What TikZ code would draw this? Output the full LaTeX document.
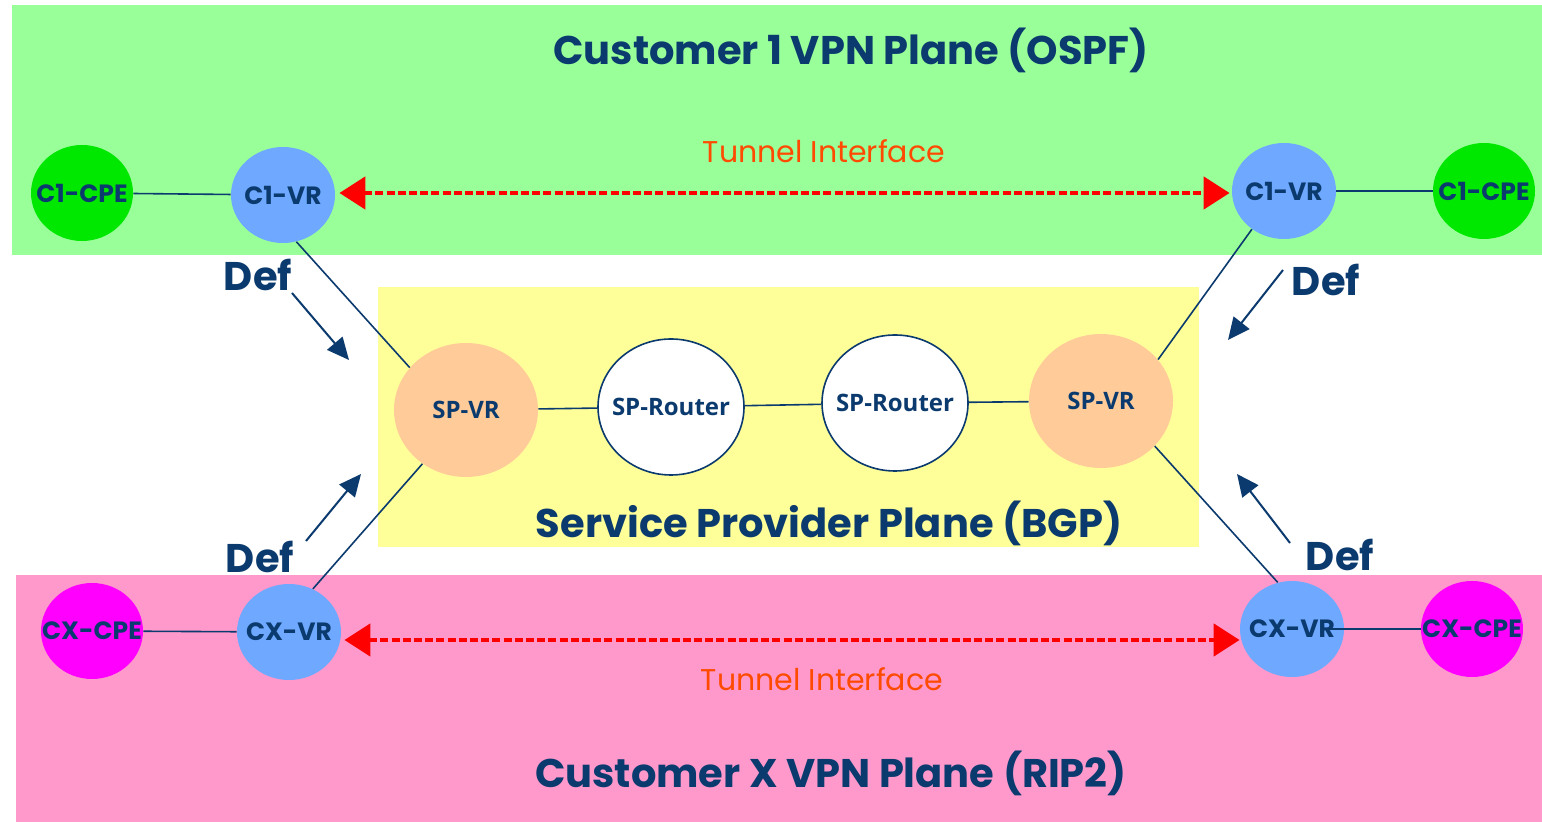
\documentclass[tikz,border=0pt]{standalone}
\usepackage{fontspec}
\setmainfont{Poppins}
\newfontfamily\spfont{Open Sans}
\usetikzlibrary{shapes.geometric,arrows.meta}
\definecolor{navy}{HTML}{0B3A6E}
\definecolor{bggreen}{HTML}{99FF99}
\definecolor{bgyellow}{HTML}{FFFF99}
\definecolor{bgpink}{HTML}{FF99CC}
\definecolor{vrblue}{HTML}{6EA9FF}
\definecolor{cpegreen}{HTML}{00E800}
\definecolor{cpemag}{HTML}{FF00FF}
\definecolor{peach}{HTML}{FFCC99}
\definecolor{tunnel}{HTML}{FF4A00}
\definecolor{tunred}{HTML}{FF0000}
\tikzset{
  plane/.style={fill=#1, draw=none},
  title/.style={text=navy, font=\bfseries\fontsize{20}{24}\selectfont},
  lbl/.style={text=navy, font=\bfseries\fontsize{12.5}{14}\selectfont},
  splbl/.style={text=navy, font=\spfont\bfseries\fontsize{12}{14}\selectfont},
  nodebase/.style={ellipse, inner sep=0pt},
  cpe/.style={nodebase, fill=#1, minimum width=51pt, minimum height=48pt},
  vr/.style={nodebase, fill=vrblue, minimum width=52pt, minimum height=48pt},
  spvr/.style={nodebase, fill=peach, minimum width=72pt, minimum height=67pt},
  sprouter/.style={nodebase, fill=white, draw=navy, line width=0.8pt, minimum width=73pt, minimum height=68pt},
  link/.style={draw=navy, line width=0.8pt},
  tunarrow/.style={draw=tunred, line width=2.4pt, dash pattern=on 4pt off 1.6pt, line cap=butt,
     {Triangle[length=13pt,width=16pt,fill=tunred]}-{Triangle[length=13pt,width=16pt,fill=tunred]}},
  tunlabel/.style={text=tunnel, font=\fontsize{15}{17}\selectfont},
  deflabel/.style={text=navy, font=\bfseries\fontsize{20}{22}\selectfont},
  defarrow/.style={draw=navy, line width=1pt, -{Triangle[length=11pt,width=10pt]}},
}
\begin{document}
\begin{tikzpicture}[x=0.5pt,y=-0.5pt]
\useasboundingbox (0,0) rectangle (1542,822);
\fill[white] (0,0) rectangle (1542,822);
% planes
\fill[plane=bggreen] (12,5) rectangle (1542,255);
\fill[plane=bgyellow] (378,287) rectangle (1199,547);
\fill[plane=bgpink] (16,575) rectangle (1542,822);
% titles
\node[title] (t1) at (851,50) {Customer 1 VPN Plane (OSPF)};
\node[title] (tsp) at (829,523) {Service Provider Plane (BGP)};
\node[title] (tx) at (831,773) {Customer X VPN Plane (RIP2)};
\node[tunlabel] (tun1) at (824,151) {Tunnel Interface};
\node[tunlabel] (tun2) at (822,679) {Tunnel Interface};
% nodes top
\node[cpe=cpegreen, label={[lbl]center:C1-CPE}] (c1cpeL) at (82,193) {};
\node[vr, label={[lbl]center:C1-VR}] (c1vrL) at (283,195) {};
\node[vr, label={[lbl]center:C1-VR}] (c1vrR) at (1284,191) {};
\node[cpe=cpegreen, label={[lbl]center:C1-CPE}] (c1cpeR) at (1484,191) {};
% SP
\node[spvr, label={[splbl]center:SP-VR}] (spvrL) at (466,410) {};
\node[sprouter, label={[splbl]center:SP-Router}] (spr1) at (671,407) {};
\node[sprouter, label={[splbl]center:SP-Router}] (spr2) at (895,403) {};
\node[spvr, label={[splbl]center:SP-VR}] (spvrR) at (1101,401) {};
% bottom
\node[cpe=cpemag, label={[lbl]center:CX-CPE}] (cxcpeL) at (92,631) {};
\node[vr, label={[lbl]center:CX-VR}] (cxvrL) at (289,632) {};
\node[vr, label={[lbl]center:CX-VR}] (cxvrR) at (1292,629) {};
\node[cpe=cpemag, label={[lbl]center:CX-CPE}] (cxcpeR) at (1472,629) {};
% links
\draw[link] (c1cpeL) -- (c1vrL);
\draw[link] (c1vrR) -- (c1cpeR);
\draw[link] (cxcpeL) -- (cxvrL);
\path (cxvrR.center) ++(36,0) coordinate (cxvrRin);
\draw[link] (cxvrRin) -- (cxcpeR);
\draw[link] (spvrL) -- (spr1);
\draw[link] (spr1) -- (spr2);
\draw[link] (spr2) -- (spvrR);
\draw[link] (c1vrL.-74) -- (spvrL.143);
\draw[link] (c1vrR.-130) -- (spvrR.36);
\draw[link] (spvrL.-129) -- (cxvrL.61);
\draw[link] (spvrR.-40) -- (cxvrR.107);
% tunnels
\path (c1vrL.east) ++(4,-2) coordinate (ta);
\path (c1vrR.west) ++(-2,2) coordinate (tb);
\draw[tunarrow] (ta) -- (tb);
\path (cxvrL.east) ++(3,8) coordinate (tc);
\path (cxvrR.west) ++(0,11) coordinate (td);
\draw[tunarrow] (tc) -- (td);
% Def labels and arrows
\node[deflabel] (d1) at (258,275) {Def};
\node[deflabel] (d2) at (1326,280) {Def};
\node[deflabel] (d3) at (260,557) {Def};
\node[deflabel] (d4) at (1340,555) {Def};
\coordinate (d1s) at (292,293); \coordinate (d1e) at (349,360);
\coordinate (d2s) at (1283,270); \coordinate (d2e) at (1228,340);
\coordinate (d3s) at (306,541); \coordinate (d3e) at (361,474);
\coordinate (d4s) at (1290,543); \coordinate (d4e) at (1237,474);
\draw[defarrow] (d1s) -- (d1e);
\draw[defarrow] (d2s) -- (d2e);
\draw[defarrow] (d3s) -- (d3e);
\draw[defarrow] (d4s) -- (d4e);
\end{tikzpicture}
\end{document}
